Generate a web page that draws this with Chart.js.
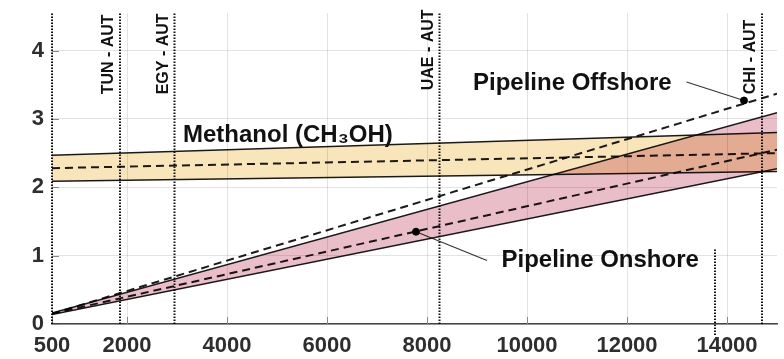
<!DOCTYPE html>
<html>
<head>
<meta charset="utf-8">
<script src="https://cdn.jsdelivr.net/npm/chart.js@4.4.1/dist/chart.umd.min.js"></script>
<style>
  body { margin: 0; background: #fff; }
  #wrap { width: 784px; height: 359px; }
</style>
</head>
<body>
<div id="wrap"><canvas id="chart" width="784" height="359"></canvas></div>
<script>
// axes
const xMin = 500, xMax = 15000, yMin = 0, yMax = 4.55;
const xTicks = [500, 2000, 4000, 6000, 8000, 10000, 12000, 14000];
const yTicks = [0, 1, 2, 3, 4];

// bands (values at x = 500 and x = 15000)
const bandX = [500, 15000];
const methanolHigh = [2.47, 2.80];
const methanolLow = [2.09, 2.23];
const methanolMid = [2.28, 2.50];
const onshoreHigh = [0.16, 3.09];
const onshoreLow = [0.14, 2.27];
const onshoreMid = [0.15, 2.55];
const offshoreMid = [0.15, 3.37];

// routes (vertical dotted lines)
const routeNames = ['TUN - AUT', 'EGY - AUT', 'UAE - AUT', 'CHI - AUT'];
const routeX = [1860, 2950, 8250, 14700];
const routeLabelY = [3.36, 3.36, 3.42, 3.36];
const strayX = 13760;
const strayY = [1.09, -0.17];

// markers + labels
const markerX = [7780, 14340];
const markerY = [1.35, 3.27];
const leaderX = [9200, 13190];
const leaderY = [0.93, 3.54];
const labelText = ['Methanol (CH\u2083OH)', 'Pipeline Offshore', 'Pipeline Onshore'];
const labelX = [3120, 8920, 9490];
const labelY = [2.66, 3.42, 0.83];

const pts = (xs, ys) => xs.map((x, i) => ({ x: x, y: ys[i] }));
const ink = '#1a1a1a';

function solid(data, fill, color) {
    return {
        data: data, borderColor: ink, borderWidth: 1.5, pointRadius: 0,
        fill: fill, backgroundColor: color || 'transparent'
    };
}
function dashed(data) {
    return { data: data, borderColor: ink, borderWidth: 2, borderDash: [8, 5], pointRadius: 0, fill: false };
}
function dotted(data) {
    return { data: data, borderColor: '#111', borderWidth: 2, borderDash: [1.5, 1.5], pointRadius: 0, fill: false, clip: false };
}

const datasets = [
    solid(pts(bandX, methanolHigh), '+1', 'rgb(248, 230, 186)'),
    solid(pts(bandX, methanolLow), false),
    dashed(pts(bandX, methanolMid)),
    solid(pts(bandX, onshoreHigh), '+1', 'rgb(234, 190, 200)'),
    solid(pts(bandX, onshoreLow), false),
    dashed(pts(bandX, onshoreMid)),
    dashed(pts(bandX, offshoreMid)),
    dotted(pts([xMin, xMin], [yMin, yMax]))
];
routeX.forEach(x => datasets.push(dotted(pts([x, x], [yMin, yMax]))));
datasets.push(dotted(pts([strayX, strayX], strayY)));
leaderX.forEach((x, i) => {
    datasets.push({
        data: pts([x, markerX[i]], [leaderY[i], markerY[i]]),
        borderColor: '#333', borderWidth: 1.2, pointRadius: 0, fill: false
    });
});
datasets.push({
    data: pts(markerX, markerY), showLine: false, pointRadius: 3.5,
    pointBackgroundColor: '#000', pointBorderColor: '#000', fill: false
});

// multiply blend so the two bands darken where they overlap
const blend = {
    id: 'blend',
    beforeDatasetsDraw(chart) {
        const ctx = chart.ctx, x = chart.scales.x, y = chart.scales.y;
        // short inner tick marks
        ctx.save();
        ctx.strokeStyle = '#888';
        ctx.lineWidth = 1;
        xTicks.forEach(v => {
            const px = Math.round(x.getPixelForValue(v)) + 0.5;
            ctx.beginPath();
            ctx.moveTo(px, y.bottom);
            ctx.lineTo(px, y.bottom - 7);
            ctx.stroke();
        });
        yTicks.forEach(v => {
            const py = Math.round(y.getPixelForValue(v)) + 0.5;
            ctx.beginPath();
            ctx.moveTo(x.left, py);
            ctx.lineTo(x.left + 7, py);
            ctx.stroke();
        });
        ctx.restore();
        ctx.save();
        ctx.globalCompositeOperation = 'multiply';
    },
    afterDatasetsDraw(chart) {
        chart.ctx.restore();
        const ctx = chart.ctx, x = chart.scales.x, y = chart.scales.y;
        ctx.save();
        ctx.fillStyle = '#111';
        ctx.font = 'bold 24px "Liberation Sans", Arial, sans-serif';
        ctx.textAlign = 'left';
        ctx.textBaseline = 'alphabetic';
        labelText.forEach((t, i) => {
            ctx.fillText(t, x.getPixelForValue(labelX[i]), y.getPixelForValue(labelY[i]));
        });
        ctx.font = 'bold 16px "Liberation Sans", Arial, sans-serif';
        routeNames.forEach((t, i) => {
            ctx.save();
            ctx.translate(x.getPixelForValue(routeX[i]) - 7, y.getPixelForValue(routeLabelY[i]));
            ctx.rotate(-Math.PI / 2);
            ctx.fillText(t, 0, 0);
            ctx.restore();
        });
        ctx.restore();
    }
};

const tickFont = { family: '"Liberation Sans", Arial, sans-serif', size: 22, weight: 'bold' };

new Chart(document.getElementById('chart'), {
    type: 'line',
    data: { datasets: datasets },
    options: {
        responsive: false,
        animation: false,
        devicePixelRatio: 1,
        layout: { padding: { top: 13, right: 7, left: 0, bottom: 0 } },
        plugins: { legend: { display: false }, tooltip: { enabled: false } },
        scales: {
            x: {
                type: 'linear', min: xMin, max: xMax,
                afterBuildTicks: s => { s.ticks = xTicks.map(v => ({ value: v })); },
                afterFit: s => { s.height = 35; s.paddingLeft = 0; s.paddingRight = 0; },
                ticks: { font: tickFont, color: '#2e2e2e', padding: 9, maxRotation: 0, callback: v => String(v) },
                grid: { color: 'rgba(0,0,0,0.11)', drawTicks: false },
                border: { display: true, color: '#444', width: 1.5 }
            },
            y: {
                type: 'linear', min: yMin, max: yMax,
                afterBuildTicks: s => { s.ticks = yTicks.map(v => ({ value: v })); },
                afterFit: s => { s.width = 52; s.paddingTop = 0; s.paddingBottom = 0; },
                ticks: { font: tickFont, color: '#2e2e2e', padding: 8, callback: v => String(v) },
                grid: { color: 'rgba(0,0,0,0.11)', drawTicks: false },
                border: { display: false }
            }
        }
    },
    plugins: [blend]
});
</script>
</body>
</html>
